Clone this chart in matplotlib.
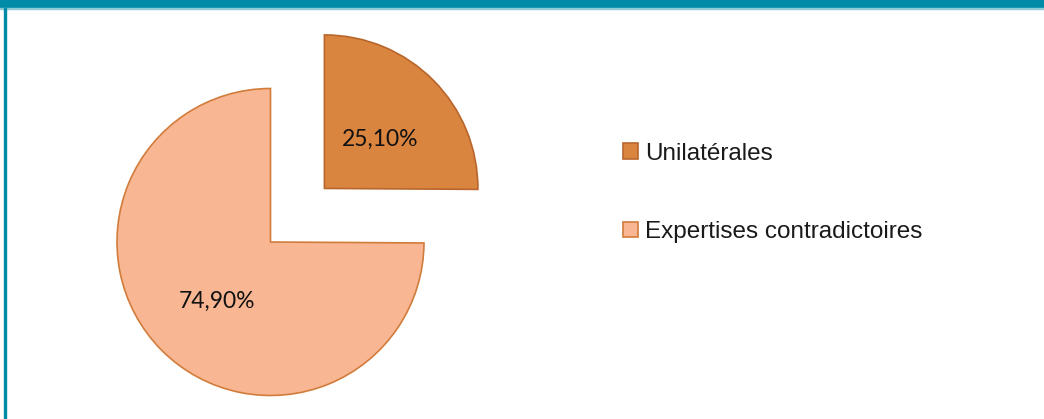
import matplotlib
matplotlib.use("Agg")
import matplotlib.pyplot as plt
from matplotlib.patches import Rectangle

# Share of expertise types
categories = ["Unilatérales", "Expertises contradictoires"]
shares = [25.1, 74.9]

fill_colors = ["#D9843F", "#F8B692"]
edge_colors = ["#B9662C", "#D27C3C"]

W, H = 1044, 419
fig = plt.figure(figsize=(W / 100, H / 100), dpi=100)
ax = fig.add_axes([0, 0, 1, 1])

# Pie geometry in pixel units (y axis pointing up)
radius = 153.5
center = (270.5, H - 242)
pull_out = 76.0

wedges, texts, autotexts = ax.pie(
    shares,
    colors=fill_colors,
    startangle=90,
    counterclock=False,
    radius=radius,
    center=center,
    explode=[pull_out, 0],
    autopct=lambda p: f"{p:.2f}%".replace(".", ","),
    pctdistance=0.50,
    textprops=dict(fontsize=16.5, family=["Lato", "DejaVu Sans"], color="#111111"),
    wedgeprops=dict(linewidth=1.2),
)
for w, ec in zip(wedges, edge_colors):
    w.set_edgecolor(ec)

# Optical centring of the percentage labels (baseline rather than bbox)
for t in autotexts:
    x, y = t.get_position()
    t.set_position((x + 1, y - 5))

ax.set_xlim(0, W)
ax.set_ylim(0, H)
ax.set_aspect("auto")
ax.axis("off")

# Frame: teal band at the top and thin teal rule on the left
teal = "#008BA8"
ax.add_patch(Rectangle((0, H - 8), W, 8, color=teal, zorder=5, clip_on=False))
ax.add_patch(Rectangle((0, H - 9.5), W, 1.5, color="#8FCBD6", zorder=5, clip_on=False))
ax.add_patch(Rectangle((4, 0), 2, H - 8, color=teal, zorder=5, clip_on=False))

leg = ax.legend(
    wedges,
    categories,
    loc="upper left",
    bbox_to_anchor=(623 / W, 1 - 142.5 / H),
    frameon=False,
    prop=dict(family=["Liberation Sans", "DejaVu Sans"], size=17.5),
    labelspacing=2.33,
    handlelength=0.6,
    handleheight=0.6,
    handletextpad=0.3,
    borderpad=0,
    borderaxespad=0,
)
for txt in leg.get_texts():
    txt.set_color("#1a1a1a")

fig.savefig("out.png", dpi=100)
